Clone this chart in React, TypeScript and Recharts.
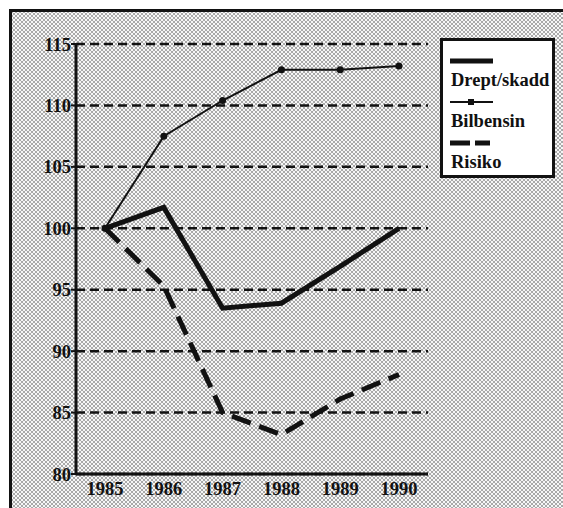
import { LineChart, Line, XAxis, YAxis, CartesianGrid } from 'recharts'

const years = ['1985', '1986', '1987', '1988', '1989', '1990']
const dreptSkadd = [100, 101.7, 93.5, 93.9, 96.9, 100]
const bilbensin = [100, 107.5, 110.4, 112.9, 112.9, 113.2]
const risiko = [100, 95.3, 85.0, 83.2, 86.1, 88.1]
const yTicks = [80, 85, 90, 95, 100, 105, 110, 115]

const series = [
  { key: 'drept', name: 'Drept/skadd' },
  { key: 'bil', name: 'Bilbensin' },
  { key: 'risiko', name: 'Risiko' },
]

const data = years.map((year, i) => ({
  year,
  drept: dreptSkadd[i],
  bil: bilbensin[i],
  risiko: risiko[i],
}))

const INK = '#111'
const FONT = '"Liberation Serif", "Times New Roman", serif'

const dots = {
  backgroundColor: '#f7f7f7',
  backgroundImage:
    'radial-gradient(circle, #777 0.55px, transparent 0.95px), radial-gradient(circle, #777 0.55px, transparent 0.95px)',
  backgroundSize: '4px 4px, 4px 4px',
  backgroundPosition: '0 0, 2px 2px',
}

function Sample({ kind }: { kind: string }) {
  return (
    <svg width={48} height={10} style={{ display: 'block' }}>
      {kind === 'drept' && <line x1={2} y1={5} x2={45} y2={5} stroke={INK} strokeWidth={5} />}
      {kind === 'bil' && (
        <g>
          <line x1={2} y1={5} x2={45} y2={5} stroke={INK} strokeWidth={2} />
          <rect x={20} y={2} width={6} height={6} fill={INK} />
        </g>
      )}
      {kind === 'risiko' && <line x1={2} y1={5} x2={42} y2={5} stroke={INK} strokeWidth={5} strokeDasharray="20 5" />}
    </svg>
  )
}

function LegendBox() {
  return (
    <div
      style={{
        position: 'absolute',
        left: 440,
        top: 38,
        width: 115,
        height: 140,
        boxSizing: 'border-box',
        border: `3px solid ${INK}`,
        background: '#fff',
        padding: '15px 0 0 5px',
        fontFamily: FONT,
        fontWeight: 'bold',
        fontSize: 18.5,
        color: INK,
        lineHeight: '20px',
      }}
    >
      {series.map((s) => (
        <div key={s.key} style={{ marginBottom: 7 }}>
          <Sample kind={s.key} />
          <div style={{ marginTop: 4, paddingLeft: 3, whiteSpace: 'nowrap' }}>{s.name}</div>
        </div>
      ))}
    </div>
  )
}

export default function App() {
  const tickStyle = { fontSize: 18.5, fill: INK, fontFamily: FONT, fontWeight: 'bold' }
  return (
    <div style={{ position: 'absolute', left: 0, top: 0, width: 563, height: 508, overflow: 'hidden', background: '#fff' }}>
      <div style={{ position: 'absolute', left: 9, top: 9, width: 600, height: 600, border: `3px solid ${INK}`, ...dots }} />
      <div style={{ position: 'absolute', left: 0, top: 0 }}>
        <LineChart width={563} height={508} data={data} margin={{ top: 44, right: 135, bottom: 0, left: 16 }}>
          <CartesianGrid vertical={false} stroke={INK} strokeWidth={2.5} strokeDasharray="9 5" />
          <XAxis
            dataKey="year"
            height={34}
            padding={{ left: 29, right: 29 }}
            tickLine={false}
            axisLine={{ stroke: INK, strokeWidth: 3 }}
            tick={tickStyle}
            interval={0}
          />
          <XAxis
            xAxisId="top"
            dataKey="year"
            orientation="top"
            height={0}
            padding={{ left: 29, right: 29 }}
            tick={false}
            tickLine={false}
            axisLine={{ stroke: INK, strokeWidth: 3 }}
          />
          <YAxis
            width={60}
            domain={[80, 115]}
            ticks={yTicks}
            interval={0}
            tickSize={5}
            tickMargin={0}
            tickLine={{ stroke: INK, strokeWidth: 2 }}
            axisLine={{ stroke: INK, strokeWidth: 3 }}
            tick={tickStyle}
          />
          <YAxis
            yAxisId="right"
            orientation="right"
            width={0}
            domain={[80, 115]}
            tick={false}
            tickLine={false}
            axisLine={{ stroke: INK, strokeWidth: 3 }}
          />
          <Line dataKey="drept" name="Drept/skadd" stroke={INK} strokeWidth={5} dot={false} isAnimationActive={false} />
          <Line
            dataKey="bil"
            name="Bilbensin"
            stroke={INK}
            strokeWidth={2}
            dot={{ r: 2.5, fill: INK, stroke: INK }}
            isAnimationActive={false}
          />
          <Line
            dataKey="risiko"
            name="Risiko"
            stroke={INK}
            strokeWidth={5}
            strokeDasharray="20 9"
            dot={false}
            isAnimationActive={false}
          />
        </LineChart>
      </div>
      <LegendBox />
    </div>
  )
}
